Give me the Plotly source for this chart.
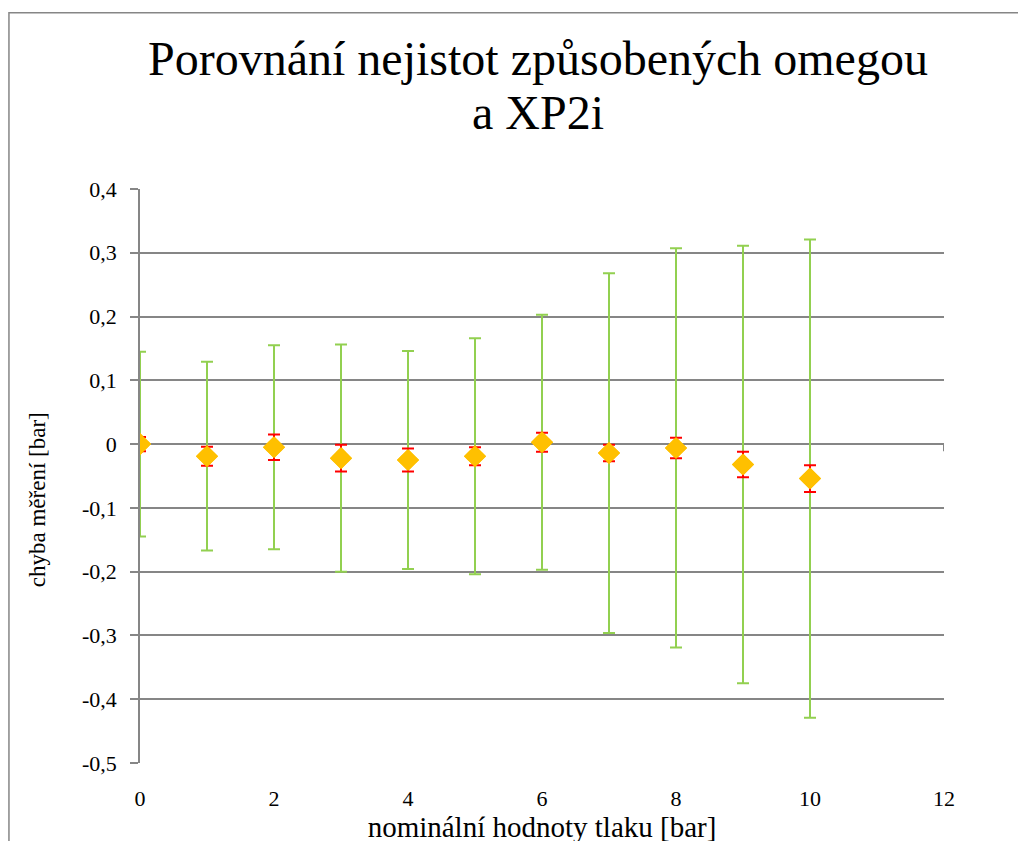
import plotly.graph_objects as go

# nominal pressure points [bar]
pressure = [0, 1, 2, 3, 4, 5, 6, 7, 8, 9, 10]
# measurement error [bar]
error_value = [0.0, -0.019, -0.005, -0.022, -0.025, -0.019, 0.003, -0.014, -0.006, -0.032, -0.054]
# uncertainty (omega) - green error bars
unc_omega = [0.145, 0.148, 0.160, 0.178, 0.171, 0.185, 0.200, 0.282, 0.313, 0.343, 0.375]
# uncertainty (XP2i) - red error bars
unc_xp2i = [0.011, 0.015, 0.020, 0.021, 0.018, 0.014, 0.015, 0.013, 0.016, 0.020, 0.021]

y_tick_vals = [0.4, 0.3, 0.2, 0.1, 0.0, -0.1, -0.2, -0.3, -0.4, -0.5]
y_tick_text = ["0,4", "0,3", "0,2", "0,1", "0", "-0,1", "-0,2", "-0,3", "-0,4", "-0,5"]

SERIF = "Liberation Serif"
GRID = "#868686"
GOLD = "#FFC000"

fig = go.Figure()

fig.add_trace(
    go.Scatter(
        x=pressure,
        y=error_value,
        mode="markers",
        marker=dict(symbol="diamond", size=17, color=GOLD),
        error_y=dict(type="data", array=unc_omega, symmetric=True,
                     color="#92D050", thickness=2, width=6),
        showlegend=False,
        hoverinfo="skip",
    )
)
fig.add_trace(
    go.Scatter(
        x=pressure,
        y=error_value,
        mode="markers",
        marker=dict(symbol="diamond", size=17, color=GOLD),
        error_y=dict(type="data", array=unc_xp2i, symmetric=True,
                     color="#FF0000", thickness=2, width=6),
        showlegend=False,
    )
)

# Excel-like horizontal axis crossing at 0 with its tick at the right end
fig.add_shape(type="line", xref="x", yref="y", x0=12, x1=12, y0=0, y1=-0.011,
              line=dict(color=GRID, width=2))

# outer chart frame (cut by the picture edge on the right and bottom)
fig.add_shape(type="rect", xref="paper", yref="paper",
              x0=-0.163, x1=1.3, y0=-0.3, y1=1.307,
              line=dict(color=GRID, width=1.5), layer="below")

# second title line (Excel uses a tighter line spacing than plotly)
fig.add_annotation(
    text="a XP2i",
    xref="paper", yref="paper", x=0.495, y=1.134,
    xanchor="center", yanchor="middle", showarrow=False,
    font=dict(family=SERIF, size=48, color="black"),
)

# y-axis title placed like Excel does (slightly below the plot centre)
fig.add_annotation(
    text="chyba měření [bar]", textangle=-90,
    xref="paper", yref="paper", x=-0.128, y=0.458,
    xanchor="center", yanchor="middle", showarrow=False,
    font=dict(family=SERIF, size=23, color="black"),
)

fig.update_layout(
    width=1026,
    height=841,
    margin=dict(l=132, r=90, t=181, b=84),
    paper_bgcolor="white",
    plot_bgcolor="white",
    font=dict(family=SERIF, color="black", size=22),
    title=dict(
        text="Porovnání nejistot způsobených omegou",
        font=dict(family=SERIF, size=48, color="black"),
        x=0.495, xref="paper", xanchor="center",
        y=0.9405, yref="container", yanchor="middle",
    ),
)

fig.update_xaxes(
    range=[0, 12],
    dtick=2,
    tick0=0,
    showgrid=False,
    zeroline=False,
    showline=False,
    ticks="",
    ticklabelstandoff=20,
    tickfont=dict(family=SERIF, size=22),
    title=dict(text="nominální hodnoty tlaku [bar]", font=dict(family=SERIF, size=29), standoff=6),
)
fig.update_yaxes(
    range=[-0.5, 0.4],
    tickvals=y_tick_vals,
    ticktext=y_tick_text,
    showgrid=True,
    gridcolor=GRID,
    gridwidth=1.5,
    zeroline=False,
    showline=True,
    linecolor=GRID,
    linewidth=1.5,
    ticks="outside",
    ticklen=8,
    tickcolor=GRID,
    tickwidth=1.5,
    ticklabelstandoff=9,
    tickfont=dict(family=SERIF, size=22),
)

fig.write_html("out.html")
